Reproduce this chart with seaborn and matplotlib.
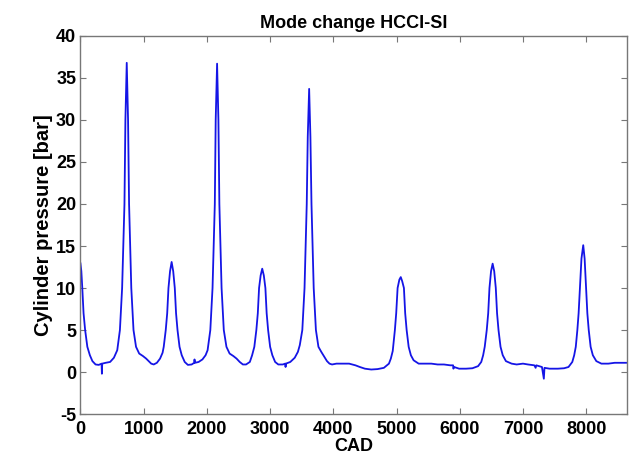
import matplotlib
matplotlib.use("Agg")
import matplotlib.pyplot as plt
import seaborn as sns
import pandas as pd

cad = [0, 15, 30, 50, 75, 110, 150, 190, 240, 290, 335, 340, 345, 400, 470, 530,
       583, 625, 660, 697, 712, 733, 754, 770, 805, 840, 880, 930, 990, 1040, 1080, 1120, 1160, 1210,
       1260, 1300, 1318, 1350, 1373, 1393, 1418, 1443, 1468, 1493, 1513, 1536, 1568, 1603, 1650, 1700,
       1760, 1800, 1805, 1812, 1870, 1930, 1980,
       2012, 2055, 2090, 2126, 2140, 2162, 2183, 2198, 2233, 2268, 2310, 2360, 2420, 2470, 2520, 2570,
       2620, 2680, 2716, 2751, 2783, 2806, 2826, 2851, 2876, 2901, 2926, 2946, 2969, 3001, 3036, 3080,
       3130, 3200, 3240, 3245, 3250, 3320, 3390, 3440, 3470, 3510, 3545, 3580, 3596, 3618, 3638, 3655,
       3690, 3725, 3765, 3810, 3860, 3900, 3940, 3980, 4050, 4150, 4250, 4350, 4420, 4500, 4600, 4700,
       4800, 4880, 4910, 4940, 4974, 4995, 5017, 5045, 5067, 5090, 5117, 5137, 5160, 5192, 5227, 5270,
       5350, 5450, 5550, 5650, 5750, 5850, 5895, 5900, 5910, 5990, 6100, 6200, 6290,
       6340, 6370, 6395, 6427, 6450, 6470, 6495, 6520, 6545, 6570, 6590, 6613, 6645, 6680, 6730, 6820,
       6900, 7000, 7080, 7180, 7200, 7210, 7300, 7330, 7340, 7420, 7550, 7650, 7720,
       7780, 7810, 7835, 7860, 7880, 7900, 7925, 7953, 7975, 7998, 8018, 8040, 8070, 8105, 8160, 8240,
       8350, 8450, 8550, 8640]
pressure = [13.0, 12.0, 10.0, 7.0, 5.0, 3.0, 2.0, 1.3, 0.9, 0.85, 1.0, -0.2, 1.0, 1.1, 1.2, 1.7,
            2.6, 5.0, 10.0, 20.0, 30.0, 36.8, 30.0, 20.0, 10.0, 5.0, 3.0, 2.2, 1.9, 1.6, 1.3, 1.0, 0.9, 1.1,
            1.6, 2.3, 3.0, 5.0, 7.0, 10.0, 12.0, 13.1, 12.0, 10.0, 7.0, 5.0, 3.0, 2.0, 1.2, 0.85,
            0.9, 1.1, 1.5, 1.1, 1.2, 1.5, 2.0,
            2.6, 5.0, 10.0, 20.0, 30.0, 36.7, 30.0, 20.0, 10.0, 5.0, 3.0, 2.2, 1.9, 1.6, 1.2, 0.9,
            0.9, 1.2, 2.0, 3.0, 5.0, 7.0, 10.0, 11.5, 12.3, 11.5, 10.0, 7.0, 5.0, 3.0, 2.0, 1.2,
            0.9, 0.9, 1.0, 0.6, 1.0, 1.2, 1.7, 2.4, 3.2, 5.0, 10.0, 20.0, 28.0, 33.7, 28.0, 20.0,
            10.0, 5.0, 3.0, 2.4, 1.8, 1.3, 1.0, 0.9, 1.0, 1.0, 1.0, 0.8, 0.6, 0.4, 0.3, 0.35,
            0.5, 1.0, 1.6, 2.5, 5.0, 7.0, 10.0, 11.0, 11.3, 10.8, 10.0, 7.0, 5.0, 3.0, 2.0, 1.4,
            1.0, 1.0, 1.0, 0.9, 0.9, 0.8, 0.8, 0.4, 0.6, 0.4, 0.4, 0.45, 0.7,
            1.2, 2.0, 3.0, 5.0, 7.0, 10.0, 12.0, 12.9, 12.0, 10.0, 7.0, 5.0, 3.0, 2.0, 1.3, 1.0,
            0.9, 1.0, 0.9, 0.8, 0.5, 0.8, 0.6, -0.8, 0.5, 0.4, 0.4, 0.45, 0.6,
            1.2, 2.0, 3.0, 5.0, 7.0, 10.0, 13.5, 15.1, 13.5, 10.0, 7.0, 5.0, 3.0, 2.0, 1.3, 1.0,
            1.0, 1.1, 1.1, 1.1]

xticks = [0, 1000, 2000, 3000, 4000, 5000, 6000, 7000, 8000]
yticks = [-5, 0, 5, 10, 15, 20, 25, 30, 35, 40]

sns.set_style("white")
plt.rcParams['font.family'] = ['Liberation Sans', 'DejaVu Sans']

df = pd.DataFrame({"CAD": cad, "p": pressure})

fig = plt.figure(figsize=(6.33, 4.55), dpi=100)
ax = fig.add_axes([0.127, 0.090, 0.863, 0.831])
sns.lineplot(data=df, x="CAD", y="p", estimator=None, sort=False, color="#1515e6", lw=1.3, ax=ax)

ax.set_xlim(0, 8640)
ax.set_ylim(-5, 40)
ax.set_xticks(xticks)
ax.set_yticks(yticks)
ax.set_xticklabels([str(t) for t in xticks], fontsize=13, fontweight='bold', color='black')
ax.set_yticklabels([str(t) for t in yticks], fontsize=13, fontweight='bold', color='black')
ax.tick_params(axis='both', direction='in', length=4, width=0.8, color='#777777',
               top=True, right=True, bottom=True, left=True)
ax.tick_params(axis='x', pad=5)
ax.tick_params(axis='y', pad=3)
for s in ax.spines.values():
    s.set_visible(True)
    s.set_color('#777777')
    s.set_linewidth(1.0)
ax.set_xlabel("CAD", fontsize=13, fontweight='bold', color='black', labelpad=0)
ax.set_ylabel("Cylinder pressure [bar]", fontsize=14.5, fontweight='bold', color='black', labelpad=2)
ax.set_title("Mode change HCCI-SI", fontsize=13, fontweight='bold', color='black', pad=6)

fig.savefig("out.png", dpi=100)
